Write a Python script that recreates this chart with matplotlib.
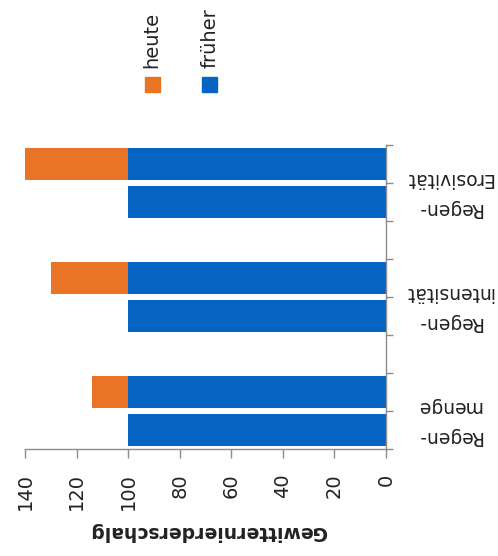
import numpy as np
import matplotlib
matplotlib.use("Agg")
import matplotlib.pyplot as plt
from matplotlib.patches import Rectangle

# data (chart is drawn turned by 90 degrees, like the reference scan)
categories = ["Regen-\nmenge", "Regen-\nintensität", "Regen-\nErosivität"]
frueher = [100, 100, 100]
heute = [114, 130, 140]
value_ticks = [0, 20, 40, 60, 80, 100, 120, 140]
axis_title = "Gewitternierderschalg"
legend_labels = ["heute", "früher"]

blue = "#0563C1"
orange = "#E97425"
grey = "#8c8c8c"

W, H = 498, 556
fig = plt.figure(figsize=(W / 100, H / 100), dpi=100)
ax = fig.add_axes([25 / W, 1 - 449 / H, 361 / W, 304 / H])

n = len(categories)
pos_old = np.arange(n) * 3
pos_new = pos_old + 1
bar_h = 0.83

ax.barh(pos_old, frueher, height=bar_h, color=blue)
ax.barh(pos_new, frueher, height=bar_h, color=blue)
ax.barh(pos_new, np.array(heute) - np.array(frueher), left=frueher,
        height=bar_h, color=orange)

ax.set_xlim(140, 0)
ax.set_ylim(-0.5, 3 * n - 0.5 - 1)

# value axis
ax.set_xticks(value_ticks)
ax.set_xticklabels([str(v) for v in value_ticks], rotation=90,
                   fontsize=14, color="#222222")
ax.tick_params(axis="x", direction="out", length=6.5, width=1,
               color=grey, pad=11)

# category axis on the right
ax.yaxis.tick_right()
ax.set_yticks(np.arange(-0.5, 3 * n - 1, 1))
ax.set_yticklabels([])
ax.tick_params(axis="y", direction="out", length=5, width=1, color=grey)

for s in ["top", "left"]:
    ax.spines[s].set_visible(False)
for s in ["bottom", "right"]:
    ax.spines[s].set_color(grey)
    ax.spines[s].set_linewidth(1)

tr = ax.get_yaxis_transform()
for i, lab in enumerate(categories):
    ax.text(1.175, pos_old[i] + 0.5 - 0.27, lab, transform=tr, rotation=180,
            ha="center", va="center", fontsize=13.5, linespacing=1.7,
            color="#222222")

fig.text(208 / W, 1 - 532 / H, axis_title, rotation=180, ha="center",
         va="center", fontsize=13.5, fontweight="bold", color="#222222")

# legend, turned like the rest
leg_x = [152, 209.5]
leg_col = [orange, blue]
for lx, lab, col in zip(leg_x, legend_labels, leg_col):
    fig.patches.append(Rectangle(((lx - 7.5) / W, 1 - 92 / H), 15 / W, 15 / H,
                                 transform=fig.transFigure, color=col))
    fig.text(lx / W, 1 - 68 / H, lab, rotation=90, rotation_mode="anchor",
             ha="left", va="center", fontsize=14, color="#222222")

fig.savefig("out.png", dpi=100)
